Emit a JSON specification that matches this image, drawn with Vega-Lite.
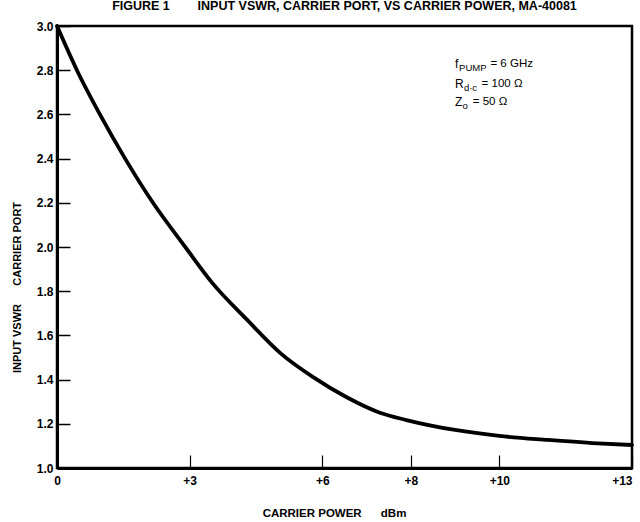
{
  "$schema": "https://vega.github.io/schema/vega-lite/v6.json",
  "width": 575,
  "height": 442,
  "autosize": {"type": "none"},
  "padding": {"left": 57, "top": 26, "right": 8, "bottom": 54},
  "background": "white",
  "config": {
    "font": "Liberation Sans",
    "view": {"stroke": "black", "strokeWidth": 2.5},
    "axis": {"grid": false}
  },
  "title": {
    "text": "FIGURE 1\u00a0\u00a0\u00a0\u00a0\u00a0\u00a0\u00a0\u00a0INPUT VSWR, CARRIER PORT, VS CARRIER POWER, MA-40081",
    "fontSize": 12.5,
    "fontWeight": "bold",
    "color": "black",
    "anchor": "middle",
    "offset": 6
  },
  "datasets": {
    "curve": [
      {"dbm": 0, "vswr": 3.0},
      {"dbm": 0.45, "vswr": 2.8},
      {"dbm": 0.97, "vswr": 2.6},
      {"dbm": 1.54, "vswr": 2.4},
      {"dbm": 2.17, "vswr": 2.2},
      {"dbm": 2.9, "vswr": 2.0},
      {"dbm": 3.5, "vswr": 1.84},
      {"dbm": 4.3, "vswr": 1.67},
      {"dbm": 5.05, "vswr": 1.52},
      {"dbm": 5.8, "vswr": 1.41},
      {"dbm": 6.55, "vswr": 1.32},
      {"dbm": 7.3, "vswr": 1.25},
      {"dbm": 7.9, "vswr": 1.217},
      {"dbm": 9.0, "vswr": 1.172},
      {"dbm": 10.0, "vswr": 1.145},
      {"dbm": 11.1, "vswr": 1.127},
      {"dbm": 12.1, "vswr": 1.113},
      {"dbm": 13.0, "vswr": 1.104}
    ],
    "notes": [
      {"base": "f", "sub": "PUMP", "val": "= 6 GHz", "x": 9.0, "xs": 9.09, "xv": 9.8, "y": 2.828},
      {"base": "R", "sub": "d·c", "val": "= 100 Ω", "x": 9.0, "xs": 9.2, "xv": 9.6, "y": 2.738},
      {"base": "Z", "sub": "o", "val": "= 50 Ω", "x": 9.0, "xs": 9.17, "xv": 9.4, "y": 2.656}
    ]
  },
  "layer": [
    {
      "data": {"name": "curve"},
      "mark": {"type": "line", "color": "black", "strokeWidth": 3.8, "interpolate": "monotone", "strokeCap": "round"},
      "encoding": {
        "x": {
          "field": "dbm",
          "type": "quantitative",
          "scale": {"domain": [0, 13], "nice": false, "zero": false},
          "axis": {
            "values": [0, 3, 6, 8, 10, 13],
            "labelExpr": "datum.value == 0 ? '0' : '+' + datum.value",
            "title": "CARRIER POWER\u00a0\u00a0\u00a0\u00a0\u00a0\u00a0dBm",
            "titleFontSize": 11.5,
            "titleFontWeight": "bold",
            "titleColor": "black",
            "titleX": 277,
            "titleY": 45,
            "titleBaseline": "middle",
            "titleAlign": "center",
            "labelFontSize": 12,
            "labelFontWeight": "bold",
            "labelColor": "black",
            "labelFlush": false,
            "labelOverlap": false,
            "labelAlign": {"condition": {"test": "datum.value == 13", "value": "right"}, "value": "center"},
            "tickSize": -13,
            "tickWidth": 1.2,
            "tickColor": "black",
            "labelPadding": 20,
            "domainColor": "black",
            "domainWidth": 3
          }
        },
        "y": {
          "field": "vswr",
          "type": "quantitative",
          "scale": {"domain": [1.0, 3.0], "nice": false, "zero": false},
          "axis": {
            "values": [1.0, 1.2, 1.4, 1.6, 1.8, 2.0, 2.2, 2.4, 2.6, 2.8, 3.0],
            "format": ".1f",
            "title": "INPUT VSWR\u00a0\u00a0\u00a0\u00a0\u00a0\u00a0CARRIER PORT",
            "titleFontSize": 11,
            "titleFontWeight": "bold",
            "titleColor": "black",
            "titleX": -40,
            "titleY": 261,
            "titleAngle": 270,
            "titleBaseline": "middle",
            "titleAlign": "center",
            "labelFontSize": 12,
            "labelFontWeight": "bold",
            "labelColor": "black",
            "labelFlush": false,
            "labelOverlap": false,
            "tickSize": -13,
            "tickWidth": 1.5,
            "tickColor": "black",
            "labelPadding": 17,
            "domainColor": "black",
            "domainWidth": 3
          }
        }
      }
    },
    {
      "data": {"name": "notes"},
      "mark": {"type": "text", "align": "left", "baseline": "middle", "fontSize": 12, "color": "black"},
      "encoding": {
        "x": {"field": "x", "type": "quantitative"},
        "y": {"field": "y", "type": "quantitative"},
        "text": {"field": "base"}
      }
    },
    {
      "data": {"name": "notes"},
      "mark": {"type": "text", "align": "left", "baseline": "middle", "fontSize": 9.5, "dy": 4, "color": "black"},
      "encoding": {
        "x": {"field": "xs", "type": "quantitative"},
        "y": {"field": "y", "type": "quantitative"},
        "text": {"field": "sub"}
      }
    },
    {
      "data": {"name": "notes"},
      "mark": {"type": "text", "align": "left", "baseline": "middle", "fontSize": 11.5, "color": "black"},
      "encoding": {
        "x": {"field": "xv", "type": "quantitative"},
        "y": {"field": "y", "type": "quantitative"},
        "text": {"field": "val"}
      }
    }
  ]
}
